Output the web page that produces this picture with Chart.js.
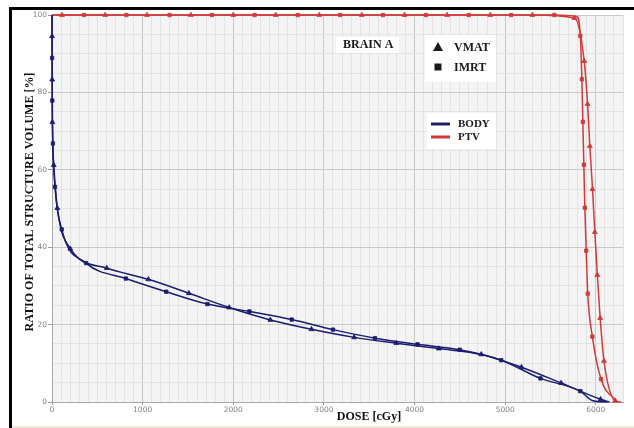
<!DOCTYPE html>
<html>
<head>
<meta charset="utf-8">
<script src="https://cdn.jsdelivr.net/npm/chart.js@4.4.1/dist/chart.umd.min.js"></script>
<style>
  html, body { margin: 0; padding: 0; background: #fff; }
  #wrap { position: relative; width: 634px; height: 428px; }
  canvas { display: block; }
</style>
</head>
<body>
<div id="wrap"><canvas id="c" width="634" height="428"></canvas></div>
<script>
// ---------- data ----------
const panelTitle = 'BRAIN A';
const planLabels = ['VMAT', 'IMRT'];
const structureLabels = ['BODY', 'PTV'];
const xAxisTitle = 'DOSE [cGy]';
const yAxisTitle = 'RATIO OF TOTAL STRUCTURE VOLUME [%]';
const xTickLabels = [0, 1000, 2000, 3000, 4000, 5000, 6000];
const yTickLabels = [0, 20, 40, 60, 80, 100];

// BODY – VMAT (triangles)
const bodyVmatDose = [0, 1, 2, 4, 19, 59, 202, 604, 1063, 1510, 1955, 2409, 2863, 3334, 3799, 4268, 4736, 5180, 5617, 6053, 6150];
const bodyVmatVol  = [100, 94.5, 83.3, 72.3, 61.2, 50.1, 39.6, 34.6, 31.7, 28.1, 24.4, 21.2, 18.8, 16.7, 15.2, 13.8, 12.3, 9.0, 4.9, 0.7, 0];
const bodyVmatNoMarker = [0, 20];

// BODY – IMRT (squares)
const bodyImrtDose = [0, 1, 3, 10, 33, 107, 376, 815, 1260, 1715, 2178, 2645, 3100, 3563, 4033, 4499, 4956, 5389, 5829, 5960, 6130];
const bodyImrtVol  = [100, 88.9, 77.9, 66.8, 55.6, 44.6, 35.9, 31.9, 28.5, 25.3, 23.4, 21.3, 18.7, 16.5, 14.9, 13.5, 10.8, 6.1, 2.8, 0.4, 0];
const bodyImrtNoMarker = [0, 19, 20];

// PTV – VMAT (triangles)
const ptvVmatDose = [0, 110, 587, 1048, 1532, 2000, 2469, 2949, 3418, 3890, 4359, 4835, 5301, 5765, 5872, 5909, 5934, 5964, 5989, 6017, 6048, 6090, 6214, 6280];
const ptvVmatVol  = [100, 100, 100, 100, 100, 100, 100, 100, 100, 100, 100, 100, 100, 99.2, 88.1, 77.0, 66.1, 55.0, 43.9, 32.8, 21.7, 10.6, 0.3, 0];
const ptvVmatNoMarker = [0, 23];

// PTV – IMRT (squares)
const ptvImrtDose = [0, 352, 821, 1297, 1766, 2235, 2711, 3180, 3652, 4125, 4598, 5066, 5543, 5790, 5829, 5846, 5857, 5868, 5879, 5894, 5911, 5962, 6058, 6240];
const ptvImrtVol  = [100, 100, 100, 100, 100, 100, 100, 100, 100, 100, 100, 100, 100, 99.6, 94.6, 83.4, 72.4, 61.3, 50.2, 39.1, 28.0, 16.9, 5.9, 0];
const ptvImrtNoMarker = [0, 13, 23];

// ---------- styles ----------
const bodyColor = '#1c1c70';
const ptvColor = '#d2393b';
const majorGrid = '#c9c9c9';
const minorGrid = '#e3e3e3';
const tickFont = { family: 'DejaVu Sans', size: 7.5 };
const serifBold = 'bold 12px "Liberation Serif", "Times New Roman", serif';

function pts(xs, ys) { return xs.map((x, i) => ({ x: x, y: ys[i] })); }
function markerRadius(noMarker, r) {
  return ctx => noMarker.includes(ctx.dataIndex) ? 0 : r;
}
function series(label, xs, ys, noMarker, color, style, r) {
  return {
    label: label,
    data: pts(xs, ys),
    borderColor: color,
    backgroundColor: color,
    borderWidth: 1.5,
    pointStyle: style,
    pointRadius: markerRadius(noMarker, r),
    pointHoverRadius: markerRadius(noMarker, r),
    pointBorderWidth: 0.8,
    pointBorderColor: color,
    pointBackgroundColor: color,
    cubicInterpolationMode: 'monotone',
    fill: false,
    clip: false
  };
}

const decor = {
  id: 'decor',
  beforeDraw(chart) {
    const { ctx, chartArea: a } = chart;
    ctx.save();
    ctx.fillStyle = '#ffffff';
    ctx.fillRect(0, 0, chart.width, chart.height);
    ctx.fillStyle = '#f4f4f4';
    ctx.fillRect(a.left, a.top, a.right - a.left, a.bottom - a.top);
    ctx.restore();
  },
  afterDraw(chart) {
    const { ctx } = chart;
    ctx.save();
    // axis titles
    ctx.fillStyle = '#111';
    ctx.font = serifBold;
    ctx.textBaseline = 'middle';
    ctx.textAlign = 'center';
    ctx.fillText(xAxisTitle, 369, 417);
    ctx.save();
    ctx.translate(30, 202);
    ctx.rotate(-Math.PI / 2);
    ctx.fillText(yAxisTitle, 0, 0);
    ctx.restore();

    // legend boxes
    ctx.fillStyle = '#ffffff';
    ctx.fillRect(336, 37, 63, 16);
    ctx.fillRect(425, 35, 71, 47);
    ctx.fillRect(427, 113, 69, 36);

    ctx.fillStyle = '#1a1a1a';
    ctx.textAlign = 'left';
    ctx.font = serifBold;
    ctx.fillText(panelTitle, 343, 45);
    ctx.fillText(planLabels[0], 454, 48);
    ctx.fillText(planLabels[1], 454, 67.5);
    // triangle + square symbols
    ctx.beginPath();
    ctx.moveTo(438, 42); ctx.lineTo(443, 51); ctx.lineTo(433, 51); ctx.closePath();
    ctx.fill();
    ctx.fillRect(434.5, 63.5, 7, 7);

    ctx.font = 'bold 11px "Liberation Serif", "Times New Roman", serif';
    ctx.fillText(structureLabels[0], 458, 124.5);
    ctx.fillText(structureLabels[1], 458, 137.5);
    ctx.lineWidth = 3;
    ctx.strokeStyle = bodyColor;
    ctx.beginPath(); ctx.moveTo(431, 124); ctx.lineTo(450, 124); ctx.stroke();
    ctx.strokeStyle = ptvColor;
    ctx.beginPath(); ctx.moveTo(431, 137); ctx.lineTo(450, 137); ctx.stroke();

    // picture frame
    ctx.fillStyle = '#000';
    ctx.fillRect(9, 7, chart.width - 9, 3);
    ctx.fillRect(9, 7, 3, chart.height - 7);
    ctx.fillStyle = '#f3ebd2';
    ctx.fillRect(12, chart.height - 2, chart.width - 12, 2);
    ctx.restore();
  }
};

new Chart(document.getElementById('c'), {
  type: 'line',
  data: {
    datasets: [
      series(structureLabels[0] + ' ' + planLabels[1], bodyImrtDose, bodyImrtVol, bodyImrtNoMarker, bodyColor, 'rect', 2.4),
      series(structureLabels[0] + ' ' + planLabels[0], bodyVmatDose, bodyVmatVol, bodyVmatNoMarker, bodyColor, 'triangle', 2.8),
      series(structureLabels[1] + ' ' + planLabels[1], ptvImrtDose, ptvImrtVol, ptvImrtNoMarker, ptvColor, 'rect', 2.4),
      series(structureLabels[1] + ' ' + planLabels[0], ptvVmatDose, ptvVmatVol, ptvVmatNoMarker, ptvColor, 'triangle', 2.8)
    ]
  },
  options: {
    responsive: false,
    animation: false,
    events: [],
    layout: { padding: { top: 15, right: 11, left: 0, bottom: 0 } },
    plugins: { legend: { display: false }, tooltip: { enabled: false } },
    scales: {
      x: {
        type: 'linear',
        min: 0, max: 6300,
        afterFit: s => { s.height = 26; },
        border: { display: true, color: '#a8a8a8', width: 1 },
        grid: {
          color: c => (c.tick && c.tick.value % 1000 === 0) ? majorGrid : minorGrid,
          tickColor: c => (c.tick && xTickLabels.includes(c.tick.value)) ? '#999' : 'rgba(0,0,0,0)',
          tickLength: 3,
          lineWidth: 1
        },
        ticks: {
          stepSize: 100,
          autoSkip: false,
          maxRotation: 0,
          padding: 1,
          color: '#808080',
          font: tickFont,
          callback: v => xTickLabels.includes(v) ? String(v) : ''
        }
      },
      y: {
        min: 0, max: 100,
        afterFit: s => { s.width = 52; },
        border: { display: true, color: '#a8a8a8', width: 1 },
        grid: {
          color: c => (c.tick && c.tick.value % 20 === 0) ? majorGrid : minorGrid,
          tickColor: c => (c.tick && yTickLabels.includes(c.tick.value)) ? '#999' : 'rgba(0,0,0,0)',
          tickLength: 4,
          lineWidth: 1
        },
        ticks: {
          stepSize: 5,
          autoSkip: false,
          padding: 1,
          color: '#808080',
          font: tickFont,
          callback: v => yTickLabels.includes(v) ? String(v) : ''
        }
      }
    }
  },
  plugins: [decor]
});
</script>
</body>
</html>
